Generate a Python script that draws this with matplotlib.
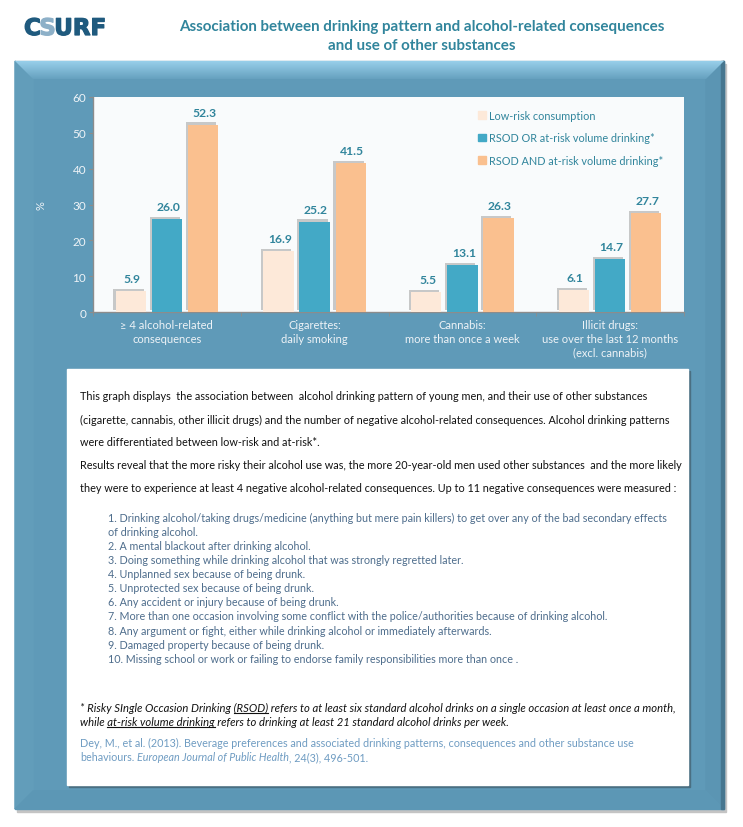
import numpy as np
import matplotlib
matplotlib.use('Agg')
import matplotlib.pyplot as plt
from matplotlib.patches import Rectangle, Polygon
from matplotlib.colors import LinearSegmentedColormap
import matplotlib.patheffects as pe

W, H = 743, 828

# ---- data -------------------------------------------------------------
categories = ["\u2265 4 alcohol-related\nconsequences",
              "Cigarettes:\ndaily smoking",
              "Cannabis:\nmore than once a week",
              "Illicit drugs:\nuse over the last 12 months\n(excl. cannabis)"]
low_risk = [5.9, 16.9, 5.5, 6.1]
rsod_or = [26.0, 25.2, 13.1, 14.7]
rsod_and = [52.3, 41.5, 26.3, 27.7]
series_names = ["Low-risk consumption",
                "RSOD OR at-risk volume drinking*",
                "RSOD AND at-risk volume drinking*"]
yticks = [0, 10, 20, 30, 40, 50, 60]

title_lines = ["Association between drinking pattern and alcohol-related consequences",
               "and use of other substances"]
para_lines = [
    "This graph displays  the association between  alcohol drinking pattern of young men, and their use of other substances",
    "(cigarette, cannabis, other illicit drugs) and the number of negative alcohol-related consequences. Alcohol drinking patterns",
    "were differentiated between low-risk and at-risk*.",
    "Results reveal that the more risky their alcohol use was, the more 20-year-old men used other substances  and the more likely",
    "they were to experience at least 4 negative alcohol-related consequences. Up to 11 negative consequences were measured :",
]
list_lines = [
    "1. Drinking alcohol/taking drugs/medicine (anything but mere pain killers) to get over any of the bad secondary effects",
    "of drinking alcohol.",
    "2. A mental blackout after drinking alcohol.",
    "3. Doing something while drinking alcohol that was strongly regretted later.",
    "4. Unplanned sex because of being drunk.",
    "5. Unprotected sex because of being drunk.",
    "6. Any accident or injury because of being drunk.",
    "7. More than one occasion involving some conflict with the police/authorities because of drinking alcohol.",
    "8. Any argument or fight, either while drinking alcohol or immediately afterwards.",
    "9. Damaged property because of being drunk.",
    "10. Missing school or work or failing to endorse family responsibilities more than once .",
]
foot_pre = "* Risky SIngle Occasion Drinking "
foot_ul = "(RSOD)"
foot_post = " refers to at least six standard alcohol drinks on a single occasion at least once a month,"
foot2_pre = "while "
foot2_ul = "at-risk volume drinking"
foot2_post = " refers to drinking at least 21 standard alcohol drinks per week."
cite1 = "Dey, M., et al. (2013). Beverage preferences and associated drinking patterns, consequences and other substance use"
cite2_a = "behaviours."
cite2_b = "European Journal of Public Health"
cite2_c = ", 24(3), 496-501."

# ---- colours ----------------------------------------------------------
TEAL = "#31859C"
BAR_COLORS = ["#FDE9D9", "#43A9C6", "#FAC08F"]
LIGHT = "#EEF3F7"
BOX_BLUE = "#5F9AB8"
FONT = "Lato"

fig = plt.figure(figsize=(W / 100, H / 100), dpi=100)
fig.patch.set_facecolor("white")
bg = fig.add_axes([0, 0, 1, 1], zorder=0)
bg.axis("off")
renderer = fig.canvas.get_renderer()


def text_width(s, **kw):
    t = bg.text(0, 0, s, **kw)
    w = t.get_window_extent(renderer).width
    t.remove()
    return w


def fit_size(s, target, **kw):
    return 10 * target / text_width(s, fontsize=10, **kw)


# ---- blue bevelled frame ---------------------------------------------
BX0, BY0, BX1, BY1 = 15, 62, 724, 810
B = 18
bg.add_patch(Rectangle((BX0 + 2, BY0 + 3), BX1 - BX0, BY1 - BY0,
                       color="#c4c4c4", zorder=0.5))
bg.add_patch(Rectangle((BX0, BY0), BX1 - BX0, BY1 - BY0, color=BOX_BLUE, zorder=1))
bg.add_patch(Polygon([(BX0, BY0), (BX0 + B, BY0 + B), (BX0 + B, BY1 - B), (BX0, BY1)],
                     color="#629DBA", zorder=1.2))
bg.add_patch(Polygon([(BX1, BY0), (BX1 - B, BY0 + B), (BX1 - B, BY1 - B), (BX1, BY1)],
                     color="#5B95B3", zorder=1.2))
bg.add_patch(Polygon([(BX0, BY1), (BX0 + B, BY1 - B), (BX1 - B, BY1 - B), (BX1, BY1)],
                     color="#5C97B5", zorder=1.2))
bg.add_patch(Rectangle((BX1 - 3, BY0), 3, BY1 - BY0, color="#46768F", zorder=1.3))
top = Polygon([(BX0, BY0), (BX1, BY0), (BX1 - B, BY0 + B), (BX0 + B, BY0 + B)],
              closed=True, facecolor="none", edgecolor="none")
bg.add_patch(top)
grad = np.linspace(0, 1, 60).reshape(-1, 1)
im = bg.imshow(grad, cmap=LinearSegmentedColormap.from_list("bev", ["#98CFEA", "#66A1BF"]),
               extent=(BX0, BX1, BY0 + B, BY0), aspect="auto", zorder=1.4)
im.set_clip_path(top)

# ---- white text box ----------------------------------------------------
TX0, TY0, TX1, TY1 = 67, 370, 688, 786
bg.add_patch(Rectangle((TX0 + 2, TY0 + 2), TX1 - TX0, TY1 - TY0, color="#4A6F82", zorder=1.5))
bg.add_patch(Rectangle((TX0, TY0), TX1 - TX0, TY1 - TY0, color="white", zorder=1.6))

# ---- logo + title ------------------------------------------------------
lx = 24
for s, c in [("C", "#1F5A7E"), ("S", "#8DB0C8"), ("URF", "#1F5A7E")]:
    t = bg.text(lx, 29.5, s, fontsize=16.5, fontweight="bold", family="DejaVu Sans",
                color=c, va="center", ha="left", zorder=3,
                path_effects=[pe.withStroke(linewidth=0.9, foreground=c)])
    lx += t.get_window_extent(renderer).width - 1.5

tsize = fit_size(title_lines[0], 486, family=FONT, fontweight="bold")
for yy, s in zip([27, 46], title_lines):
    bg.text(422, yy, s, fontsize=tsize, fontweight="bold", family=FONT, color=TEAL,
            ha="center", va="center", zorder=3)

# ---- text box contents -------------------------------------------------
psize = fit_size(para_lines[0], 565, family=FONT)
for i, s in enumerate(para_lines):
    bg.text(80, 397 + 23 * i, s, fontsize=psize, family=FONT, color="#111111",
            ha="left", va="center", zorder=3)

lsize = fit_size(list_lines[0], 556, family=FONT)
for i, s in enumerate(list_lines):
    bg.text(108, 518.3 + 14.1 * i, s, fontsize=lsize, family=FONT, color="#4E6D8C",
            ha="left", va="center", zorder=3)

fkw = dict(family=FONT, style="italic", color="#111111")
fsize = fit_size(foot_pre + foot_ul + foot_post, 596, **fkw)
fkw["fontsize"] = fsize
for yy, pre, ul, post in [(708.3, foot_pre, foot_ul, foot_post),
                          (722.3, foot2_pre, foot2_ul, foot2_post)]:
    bg.text(80, yy, pre + ul + post, ha="left", va="center", zorder=3, **fkw)
    x_a = 80 + text_width(pre + ul[0], **fkw) - text_width(ul[0], **fkw)
    x_b = 80 + text_width(pre + ul, **fkw)
    bg.plot([x_a, x_b], [yy + 6, yy + 6], color="#111111", lw=0.8, zorder=3)

ckw = dict(family=FONT, color="#6F9CC2")
csize = fit_size(cite1, 553, **ckw)
ckw["fontsize"] = csize
bg.text(80, 743.3, cite1, ha="left", va="center", zorder=3, **ckw)
space = text_width("a a", **ckw) - text_width("aa", **ckw)
cx = 80
for s, st, gap in [(cite2_a, "normal", space), (cite2_b, "italic", 0), (cite2_c, "normal", 0)]:
    t = bg.text(cx, 757.3, s, ha="left", va="center", style=st, zorder=3, **ckw)
    cx += t.get_window_extent(renderer).width + gap

bg.set_xlim(0, W)
bg.set_ylim(H, 0)

# ---- bar chart -------------------------------------------------------
ax = fig.add_axes([93 / W, 1 - 313 / H, (684 - 93) / W, (313 - 98) / H], zorder=2)
ax.set_facecolor("#F9FBFC")
x = np.arange(len(categories))
offs = [-0.245, 0.0, 0.245]
shadow = [pe.SimplePatchShadow(offset=(-1.6, 1.6), shadow_rgbFace="#8a8a8a", alpha=0.45),
          pe.Normal()]
for vals, off, c, name in zip([low_risk, rsod_or, rsod_and], offs, BAR_COLORS, series_names):
    bars = ax.bar(x + off, vals, 0.205, color=c, zorder=3, path_effects=shadow)
    for b, v in zip(bars, vals):
        ax.annotate(f"{v:.1f}", (b.get_x() + b.get_width() / 2, v), xytext=(1, 5),
                    textcoords="offset points", ha="center", va="bottom",
                    fontsize=8.7, fontweight="bold", family=FONT, color=TEAL)

ax.set_xlim(-0.5, len(categories) - 0.5)
ax.set_ylim(0, 60)
ax.set_yticks(yticks)
ax.set_xticks(x)
ax.set_xticklabels(categories, family=FONT, fontsize=8, color=LIGHT, linespacing=1.3)
ax.set_xticks(np.arange(len(categories) + 1) - 0.5, minor=True)
ax.tick_params(axis="x", which="major", length=0, pad=5)
ax.tick_params(axis="x", which="minor", length=3, color="#8C8C8C", direction="out")
ax.tick_params(axis="y", length=3, color="#8C8C8C", labelcolor=LIGHT, labelsize=8.5, pad=2)
for lab in ax.get_yticklabels():
    lab.set_family(FONT)
for side in ["top", "right"]:
    ax.spines[side].set_visible(False)
for side in ["left", "bottom"]:
    ax.spines[side].set_color("#8C8C8C")
    ax.spines[side].set_linewidth(1.0)
ax.set_ylabel("%", color=LIGHT, fontsize=8, family=FONT)
ax.yaxis.set_label_coords((47 - 93) / 591, 0.5)

handles = [Rectangle((0, 0), 1, 1, color=c) for c in BAR_COLORS]
ax.legend(handles, series_names, loc="upper left", bbox_to_anchor=(0.652, 0.94),
          frameon=False, borderpad=0, borderaxespad=0, handlelength=0.75,
          handleheight=0.75, handletextpad=0.2, labelspacing=1.05,
          prop={"family": FONT, "size": 7.8}, labelcolor=TEAL)

fig.savefig("out.png", dpi=100)
